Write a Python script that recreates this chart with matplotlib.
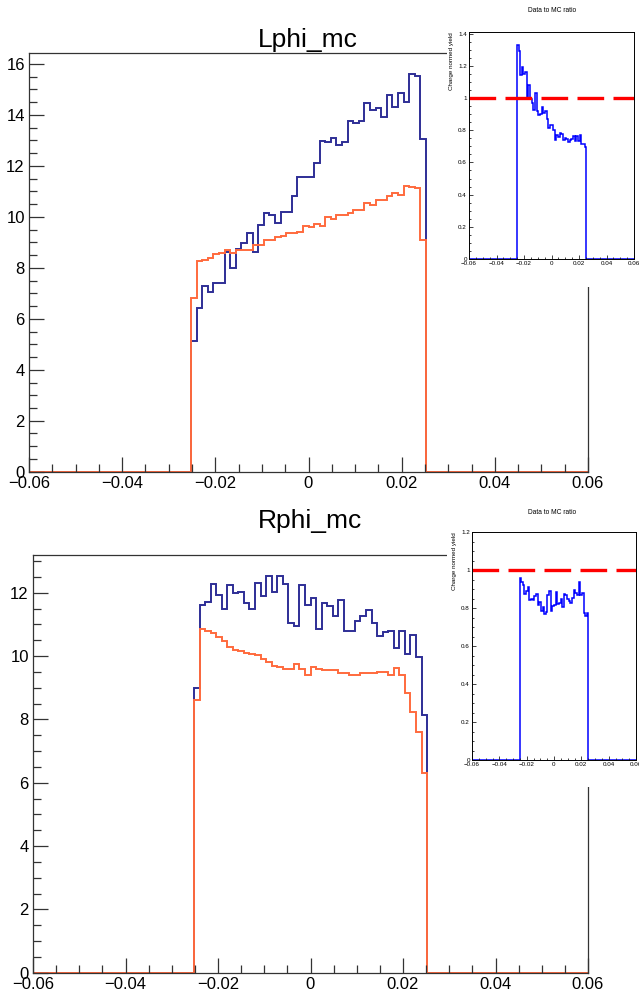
import numpy as np
import matplotlib.pyplot as plt
from matplotlib.ticker import FixedLocator, FixedFormatter, MultipleLocator

plt.rcParams['font.family'] = ['Liberation Sans', 'DejaVu Sans']

# histogram binning: 100 bins over the x range, only bins 29..70 are filled
n_bins = 100
x_lo, x_hi = -0.06, 0.06
first_bin = 29

# Lphi panel (42 filled bins)
l_blue = [5.13, 6.41, 7.29, 7.06, 7.42, 7.42, 8.63, 7.98, 8.73, 8.96, 9.38,
          8.63, 9.68, 10.14, 10.08, 9.75, 10.2, 10.2, 10.82, 11.55, 11.55,
          11.55, 12.13, 12.99, 12.95, 13.08, 12.82, 12.95, 13.77, 13.67, 13.77,
          14.45, 14.19, 14.26, 13.9, 14.78, 14.3, 14.87, 14.52, 15.61, 15.53, 13.04]
l_orange = [6.83, 8.27, 8.31, 8.40, 8.54, 8.60, 8.70, 8.60, 8.70, 8.70, 8.70,
            8.88, 8.88, 9.09, 9.09, 9.22, 9.25, 9.38, 9.38, 9.42, 9.64,
            9.62, 9.72, 9.64, 10.0, 9.9, 10.07, 10.07, 10.17, 10.27, 10.27,
            10.53, 10.47, 10.66, 10.66, 10.82, 10.92, 10.86, 11.21, 11.18, 11.14, 9.1]

# Rphi panel
r_blue = [8.98, 11.61, 11.72, 12.27, 11.93, 11.5, 12.23, 12.0, 12.03, 11.68, 11.5,
          12.32, 11.9, 12.52, 12.03, 12.52, 12.27, 11.03, 10.95, 12.23, 11.61,
          11.82, 10.84, 11.66, 11.58, 11.26, 11.77, 10.8, 10.8, 11.11, 11.26,
          11.45, 11.05, 10.63, 10.77, 10.8, 10.24, 10.8, 10.06, 10.66, 9.98, 8.13]
r_orange = [8.61, 10.86, 10.8, 10.72, 10.61, 10.48, 10.29, 10.19, 10.16, 10.1, 10.05,
            10.02, 9.92, 9.82, 9.7, 9.64, 9.58, 9.58, 9.75, 9.6, 9.4,
            9.66, 9.58, 9.56, 9.56, 9.56, 9.45, 9.45, 9.4, 9.4, 9.45,
            9.45, 9.45, 9.49, 9.49, 9.4, 9.62, 9.4, 8.84, 8.24, 7.59, 6.3]

titles = ['Lphi_mc', 'Rphi_mc']
ratio_title = 'Data to MC ratio'
ratio_ylabel = 'Charge normed yield'
x_ticks = [-0.06, -0.04, -0.02, 0, 0.02, 0.04, 0.06]
x_labels = ['\u22120.06', '\u22120.04', '\u22120.02', '0', '0.02', '0.04', '0.06']

W, H = 639, 996
fig = plt.figure(figsize=(W / 100, H / 100), dpi=100)


def px_axes(x0, y0, x1, y1, **kw):
    # rectangle given in pixels from the top-left corner
    return fig.add_axes([x0 / W, 1 - y1 / H, (x1 - x0) / W, (y1 - y0) / H], **kw)


def full(vals):
    arr = np.zeros(n_bins)
    arr[first_bin:first_bin + len(vals)] = vals
    return arr


edges = np.linspace(x_lo, x_hi, n_bins + 1)

panels = [
    # main rect, ymax, y major, title pos, pad rect, inset rect, inset ymax, inset title pos
    dict(blue=l_blue, orange=l_orange, main=(29, 53, 588, 471.7), ymax=16.43,
         title=(308, 40), pad=(447, 0, 639, 287), inset=(469, 32, 634, 259),
         iymax=1.41, ititle=(552, 11)),
    dict(blue=r_blue, orange=r_orange, main=(33, 555, 588, 972.7), ymax=13.19,
         title=(310, 521), pad=(447, 498, 639, 787), inset=(472, 532, 636, 760),
         iymax=1.2, ititle=(552, 513)),
]

for i, p in enumerate(panels):
    blue = full(p['blue'])
    orange = full(p['orange'])

    ax = px_axes(*p['main'])
    ax.stairs(blue, edges, color='#2e2e96', lw=1.4, clip_on=False)
    ax.stairs(orange, edges, color='#ff6a3d', lw=1.4, clip_on=False)
    ax.set_xlim(x_lo, x_hi)
    ax.set_ylim(0, p['ymax'])
    ax.xaxis.set_major_locator(FixedLocator(x_ticks))
    ax.xaxis.set_major_formatter(FixedFormatter(x_labels))
    ax.xaxis.set_minor_locator(MultipleLocator(0.005))
    ax.yaxis.set_major_locator(MultipleLocator(2))
    ax.yaxis.set_minor_locator(MultipleLocator(0.5))
    ax.tick_params(which='both', direction='in', top=False, right=False,
                   labelsize=12, color='#333333')
    ax.tick_params(which='major', length=11, width=0.9, pad=3)
    ax.tick_params(which='minor', length=6, width=0.9)
    for s in ax.spines.values():
        s.set_linewidth(0.9)
        s.set_color('#333333')
    fig.text(p['title'][0] / W, 1 - p['title'][1] / H, titles[i],
             ha='center', va='center', fontsize=19)

    # white pad behind the ratio inset
    pad = px_axes(*p['pad'])
    pad.set_xticks([])
    pad.set_yticks([])
    for s in pad.spines.values():
        s.set_visible(False)

    ratio = np.divide(orange, blue, out=np.zeros(n_bins), where=blue > 0)
    ins = px_axes(*p['inset'])
    ins.stairs(ratio, edges, color='#0000ff', lw=1.1)
    ins.axhline(1, color='#ff0000', lw=2.4, dashes=(8, 2.8))
    ins.set_xlim(x_lo, x_hi)
    ins.set_ylim(0, p['iymax'])
    ins.xaxis.set_major_locator(FixedLocator(x_ticks))
    ins.xaxis.set_major_formatter(FixedFormatter(x_labels))
    ins.xaxis.set_minor_locator(MultipleLocator(0.005))
    ins.yaxis.set_major_locator(MultipleLocator(0.2))
    ins.yaxis.set_minor_locator(MultipleLocator(0.05))
    ins.yaxis.set_major_formatter(plt.FuncFormatter(lambda v, _: '0' if v == 0 else '%g' % round(v, 2)))
    ins.tick_params(which='both', direction='in', top=False, right=False,
                    labelsize=4.5, color='#222222', width=0.6, pad=1.5)
    ins.tick_params(which='major', length=3.2)
    ins.tick_params(which='minor', length=1.6)
    for s in ins.spines.values():
        s.set_linewidth(0.7)
    ins.set_ylabel(ratio_ylabel, fontsize=4.5, loc='top', labelpad=3)
    fig.text(p['ititle'][0] / W, 1 - p['ititle'][1] / H, ratio_title,
             ha='center', va='center', fontsize=4.8)

fig.savefig('out.png', dpi=100)
